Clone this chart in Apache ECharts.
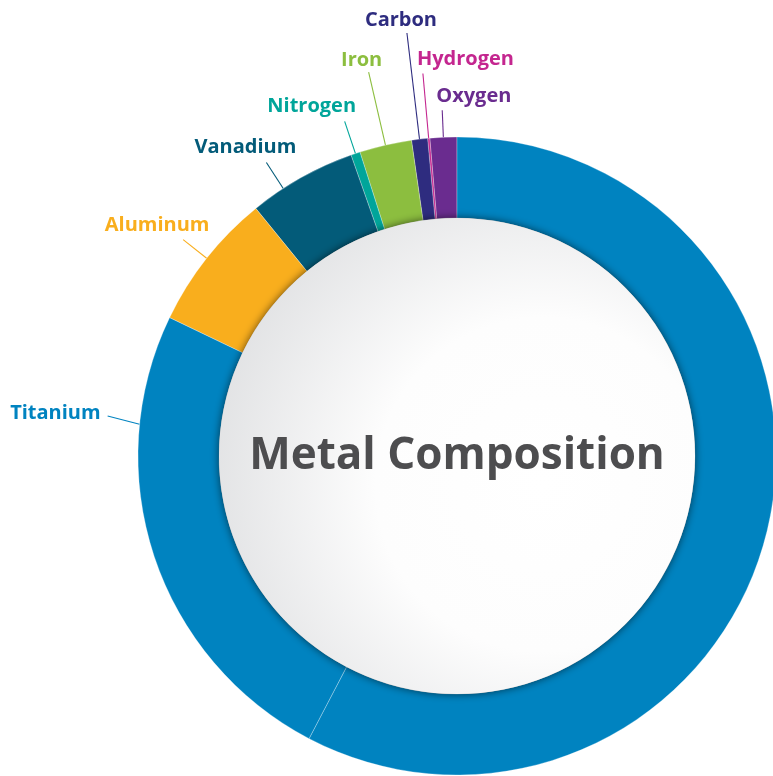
<!DOCTYPE html>
<html>
<head>
<meta charset="utf-8">
<script src="https://cdn.jsdelivr.net/npm/echarts@6/dist/echarts.min.js"></script>
<style>
html,body{margin:0;padding:0;background:#fff;}
#main{width:773px;height:776px;}
</style>
</head>
<body>
<div id="main"></div>
<script>
// Data (percent of composition as drawn), counter-clockwise from 12 o'clock
var categories = ['Oxygen', 'Hydrogen', 'Carbon', 'Iron', 'Nitrogen', 'Vanadium', 'Aluminum', 'Titanium', 'Titanium'];
var values = [1.36, 0.11, 0.81, 2.64, 0.47, 5.47, 7.0, 24.47, 57.67];
var colors = ['#6a2c8f', '#c4268f', '#2e2c7f', '#8cbe3f', '#00a59a', '#035b79', '#f9ae1d', '#0083c0', '#0083c0'];
var centerTitle = 'Metal Composition';

// label placement (styling, not data): anchor angle override, line direction, length, text offset
var CX = 457, CY = 456, R0 = 238, R = 319;
var labelSpec = {
  'Oxygen':   {len: 27,  dx: -6,  dy: -14, align: 'left'},
  'Hydrogen': {len: 65,  dx: -6,  dy: -14, align: 'left'},
  'Carbon':   {len: 107, dx: -6,  dy: -13, align: 'center'},
  'Iron':     {len: 75,  dx: -7,  dy: -12, align: 'center'},
  'Nitrogen': {len: 34,  dx: -33, dy: -15, align: 'center'},
  'Vanadium': {at: 33, len: 31, dx: -21, dy: -15, align: 'center'},
  'Aluminum': {len: 30,  dx: -26, dy: -14, align: 'center'},
  'Titanium': {at: 84.3, dir: 75.5, len: 33, dx: -7, dy: -3, align: 'right'}
};

var ringData = categories.map(function (name, i) {
  var item = {
    name: name,
    value: values[i],
    itemStyle: {color: colors[i]},
    label: {color: colors[i]},
    labelLine: {lineStyle: {color: colors[i]}}
  };
  if (i === categories.length - 1) {
    item.label = {show: false};
    item.labelLine = {show: false};
  }
  return item;
});

var chart = echarts.init(document.getElementById('main'), null, {renderer: 'canvas'});

chart.setOption({
  backgroundColor: '#ffffff',
  animation: false,
  series: [
    {
      type: 'pie',
      center: [CX, CY],
      radius: [R0, R],
      startAngle: 90,
      clockwise: false,
      silent: true,
      avoidLabelOverlap: false,
      itemStyle: {borderColor: 'rgba(255,255,255,0.4)', borderWidth: 0.7},
      label: {
        show: true,
        position: 'outside',
        formatter: '{b}',
        fontFamily: 'Open Sans',
        fontWeight: 'bold',
        fontSize: 20
      },
      labelLine: {show: true, length: 10, length2: 0, lineStyle: {width: 1.1}},
      labelLayout: function (params) {
        var name = categories[params.dataIndex];
        var s = labelSpec[name];
        if (!s || !params.labelLinePoints) return {};
        var p0 = params.labelLinePoints[0];
        var at = s.at;
        if (at == null) {
          at = Math.atan2(-(p0[0] - CX), -(p0[1] - CY)) * 180 / Math.PI;
        }
        var a = at * Math.PI / 180;
        var sx = CX - R * Math.sin(a), sy = CY - R * Math.cos(a);
        var d = (s.dir != null ? s.dir : at) * Math.PI / 180;
        var ex = sx - s.len * Math.sin(d), ey = sy - s.len * Math.cos(d);
        return {
          x: ex + s.dx,
          y: ey + s.dy,
          align: s.align,
          verticalAlign: 'middle',
          labelLinePoints: [[sx, sy], [ex, ey], [ex, ey]]
        };
      },
      emphasis: {disabled: true},
      data: ringData
    },
    {
      type: 'pie',
      center: [CX, CY],
      radius: [0, R0],
      silent: true,
      emphasis: {disabled: true},
      label: {
        show: true,
        position: 'center',
        formatter: '{b}',
        fontFamily: 'Open Sans',
        fontWeight: 'bold',
        fontSize: 44,
        color: '#4d4d4f'
      },
      labelLine: {show: false},
      itemStyle: {
        color: {
          type: 'radial', x: 0.68, y: 0.56, r: 0.78,
          colorStops: [
            {offset: 0, color: '#ffffff'},
            {offset: 0.45, color: '#fdfdfd'},
            {offset: 1, color: '#dcdddf'}
          ]
        },
        shadowBlur: 9,
        shadowColor: 'rgba(0,0,0,0.6)'
      },
      data: [{name: centerTitle, value: 1}]
    }
  ]
});
</script>
</body>
</html>
